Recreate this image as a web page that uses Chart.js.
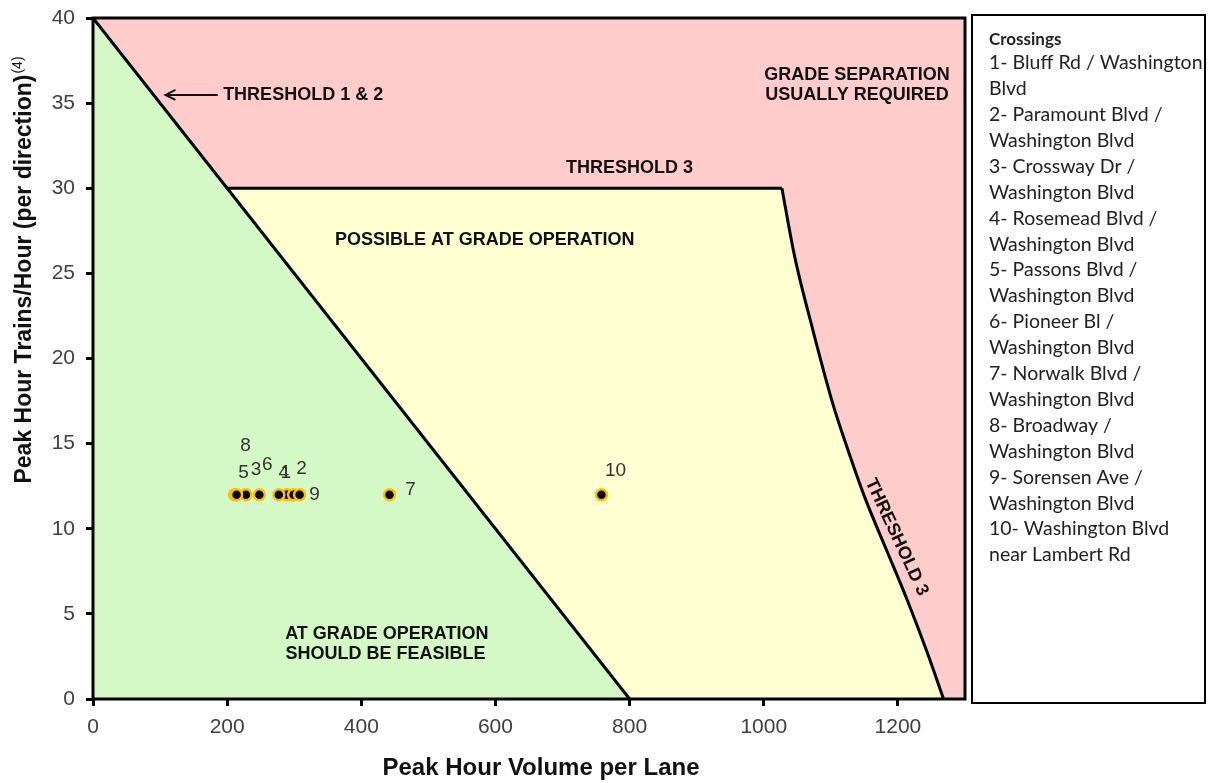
<!DOCTYPE html>
<html>
<head>
<meta charset="utf-8">
<script src="https://cdn.jsdelivr.net/npm/chart.js@4"></script>
<style>
  body { margin: 0; background: #fff; }
  canvas { display: block; }
</style>
</head>
<body>
<canvas id="crossingChart" width="1208" height="783"></canvas>
<script>
// tick labels
var xTicks = [0, 200, 400, 600, 800, 1000, 1200];
var yTicks = [0, 5, 10, 15, 20, 25, 30, 35, 40];

// threshold lines
var threshold12X = [0, 800];
var threshold12Y = [40, 0];
var threshold3TopX = [200, 1027];
var threshold3TopY = [30, 30];
var threshold3CurveX = [1027, 1046, 1073, 1104, 1124, 1150, 1183, 1214, 1244, 1268];
var threshold3CurveY = [30, 26, 21.7, 17.2, 14.8, 11.9, 8.75, 5.8, 2.7, 0];

// crossings
var crossingIds = ['1', '2', '3', '4', '5', '6', '7', '8', '9', '10'];
var crossingVolume = [289, 299, 228, 277, 211, 248, 442, 214, 308, 758];
var crossingTrains = [12, 12, 12, 12, 12, 12, 12, 12, 12, 12];
var crossingLines = [
  ['1- Bluff Rd / Washington', 'Blvd'],
  ['2- Paramount Blvd /', 'Washington Blvd'],
  ['3- Crossway Dr /', 'Washington Blvd'],
  ['4- Rosemead Blvd /', 'Washington Blvd'],
  ['5- Passons Blvd /', 'Washington Blvd'],
  ['6- Pioneer Bl /', 'Washington Blvd'],
  ['7- Norwalk Blvd /', 'Washington Blvd'],
  ['8- Broadway /', 'Washington Blvd'],
  ['9- Sorensen Ave /', 'Washington Blvd'],
  ['10- Washington Blvd', 'near Lambert Rd']
];

var RED = '#FFCCCC';
var GREEN = '#D5F9C6';
var YELLOW = '#FFFFD2';

// where each number label sits relative to its dot (px)
var labelShift = [
  [-1, -22], [8, -26], [10, -25], [5, -22], [9, -22],
  [8, -30], [21, -5], [9, -49], [15, 0], [14, -24]
];

function pts(xs, ys) {
  return xs.map(function (x, i) { return { x: x, y: ys[i] }; });
}

var zonesPlugin = {
  id: 'zones',
  beforeDraw: function (chart) {
    var ctx = chart.ctx, a = chart.chartArea;
    ctx.save();
    ctx.fillStyle = '#fff';
    ctx.fillRect(0, 0, chart.width, chart.height);
    ctx.fillStyle = RED;
    ctx.fillRect(a.left, a.top, a.right - a.left, a.bottom - a.top);
    ctx.restore();
  },
  afterDatasetsDraw: function (chart) {
    var ctx = chart.ctx, a = chart.chartArea;
    var sx = chart.scales.x, sy = chart.scales.y;
    var px = function (v) { return sx.getPixelForValue(v); };
    var py = function (v) { return sy.getPixelForValue(v); };

    ctx.save();
    ctx.fillStyle = '#111';
    ctx.font = 'bold 18px "Liberation Sans", Arial, sans-serif';
    ctx.textBaseline = 'middle';
    ctx.textAlign = 'center';
    ctx.fillText('GRADE SEPARATION', px(1139), py(36.65));
    ctx.fillText('USUALLY REQUIRED', px(1139), py(35.48));
    ctx.fillText('THRESHOLD 3', px(800), py(31.2));
    ctx.fillText('POSSIBLE AT GRADE OPERATION', px(584), py(26.96));
    ctx.fillText('AT GRADE OPERATION', px(438), py(3.82));
    ctx.fillText('SHOULD BE FEASIBLE', px(436), py(2.64));
    ctx.textAlign = 'left';
    ctx.fillText('THRESHOLD 1 & 2', px(194), py(35.48));

    // rotated label along the curve
    ctx.save();
    ctx.translate(px(1198), py(9.5));
    ctx.rotate(65 * Math.PI / 180);
    ctx.textAlign = 'center';
    ctx.fillText('THRESHOLD 3', 0, 0);
    ctx.restore();

    // arrow to threshold 1 & 2
    var ay = py(35.48), ax0 = px(186), ax1 = px(108);
    ctx.strokeStyle = '#111';
    ctx.lineWidth = 2;
    ctx.beginPath();
    ctx.moveTo(ax0, ay); ctx.lineTo(ax1, ay);
    ctx.moveTo(ax1 + 10, ay - 5); ctx.lineTo(ax1, ay); ctx.lineTo(ax1 + 10, ay + 5);
    ctx.stroke();

    // point labels
    ctx.font = '19px "Liberation Sans", Arial, sans-serif';
    ctx.fillStyle = '#333';
    ctx.textAlign = 'center';
    crossingIds.forEach(function (id, i) {
      ctx.fillText(id, px(crossingVolume[i]) + labelShift[i][0], py(crossingTrains[i]) + labelShift[i][1]);
    });

    // plot frame
    ctx.strokeStyle = '#000';
    ctx.lineWidth = 3;
    ctx.strokeRect(a.left, a.top, a.right - a.left, a.bottom - a.top);
    ctx.restore();
  },
  afterDraw: function (chart) {
    var ctx = chart.ctx;
    ctx.save();
    ctx.fillStyle = '#111';
    ctx.textBaseline = 'middle';

    // x title
    ctx.font = 'bold 24px "Liberation Sans", Arial, sans-serif';
    ctx.textAlign = 'center';
    ctx.fillText('Peak Hour Volume per Lane', 541, 768);

    // y title with superscript
    var main = 'Peak Hour Trains/Hour (per direction)';
    ctx.font = 'bold 23px "Liberation Sans", Arial, sans-serif';
    var mw = ctx.measureText(main).width;
    ctx.font = '14px "Liberation Sans", Arial, sans-serif';
    var sw = ctx.measureText('(4)').width;
    ctx.translate(25, 270);
    ctx.rotate(-Math.PI / 2);
    ctx.textAlign = 'left';
    var start = -(mw + sw + 1) / 2;
    ctx.font = 'bold 23px "Liberation Sans", Arial, sans-serif';
    ctx.fillText(main, start, 0);
    ctx.font = '14px "Liberation Sans", Arial, sans-serif';
    ctx.fillText('(4)', start + mw + 1, -7);
    ctx.setTransform(1, 0, 0, 1, 0, 0);

    // legend box
    ctx.strokeStyle = '#000';
    ctx.lineWidth = 2;
    ctx.strokeRect(972, 15, 233, 688);
    ctx.fillStyle = '#222';
    ctx.font = 'bold 17px Lato, "Open Sans", sans-serif';
    ctx.fillText('Crossings', 989, 40);
    ctx.font = '19.5px Lato, "Open Sans", sans-serif';
    var row = 0;
    crossingLines.forEach(function (lines) {
      lines.forEach(function (t) {
        ctx.fillText(t, 989, 63 + row * 25.9);
        row++;
      });
    });
    ctx.restore();
  }
};

var tickFont = { family: '"Liberation Sans", Arial, sans-serif', size: 21 };
var tickGrid = { display: true, drawOnChartArea: false, drawTicks: true, tickLength: 7, lineWidth: 3, color: '#000' };

function plain(v) { return String(v); }

function lineSet(label, xs, ys, fillColor, border) {
  return {
    label: label,
    data: pts(xs, ys),
    showLine: true,
    fill: fillColor ? 'origin' : false,
    backgroundColor: fillColor || 'rgba(0,0,0,0)',
    borderColor: '#000',
    borderWidth: border,
    pointRadius: 0,
    tension: 0
  };
}

var curveSet = lineSet('Threshold 3', threshold3CurveX, threshold3CurveY, YELLOW, 3);
curveSet.cubicInterpolationMode = 'monotone';

var chart = new Chart(document.getElementById('crossingChart').getContext('2d'), {
  type: 'scatter',
  data: {
    datasets: [{
      label: 'Crossings',
      data: pts(crossingVolume, crossingTrains),
      pointRadius: 5.5,
      pointBackgroundColor: '#000',
      pointBorderColor: '#FFC000',
      pointBorderWidth: 2.5,
      showLine: false
    },
      lineSet('Threshold 1 & 2', threshold12X, threshold12Y, GREEN, 3),
      curveSet,
      lineSet('Threshold 3 top', threshold3TopX, threshold3TopY, null, 3),
      // plain yellow underlay so the two threshold 3 pieces join without a seam
      lineSet('Possible zone', threshold3TopX.concat(threshold3CurveX), threshold3TopY.concat(threshold3CurveY), YELLOW, 0)
    ]
  },
  options: {
    responsive: false,
    animation: false,
    devicePixelRatio: 1,
    layout: { padding: { left: 0, top: 18, right: 243, bottom: 0 } },
    plugins: {
      legend: { display: false },
      tooltip: { enabled: false }
    },
    scales: {
      x: {
        type: 'linear',
        min: 0,
        max: 1300,
        afterBuildTicks: function (s) { s.ticks = xTicks.map(function (v) { return { value: v }; }); },
        afterFit: function (s) { s.height = 84; s.paddingLeft = 0; s.paddingRight = 0; },
        ticks: { font: tickFont, color: '#404040', padding: 9, maxRotation: 0, callback: plain },
        grid: tickGrid,
        border: { display: false }
      },
      y: {
        type: 'linear',
        min: 0,
        max: 40,
        afterBuildTicks: function (s) { s.ticks = yTicks.map(function (v) { return { value: v }; }); },
        afterFit: function (s) { s.width = 93; s.paddingTop = 0; s.paddingBottom = 0; },
        ticks: { font: tickFont, color: '#404040', padding: 11, callback: plain },
        grid: tickGrid,
        border: { display: false }
      }
    }
  },
  plugins: [zonesPlugin]
});
</script>
</body>
</html>
